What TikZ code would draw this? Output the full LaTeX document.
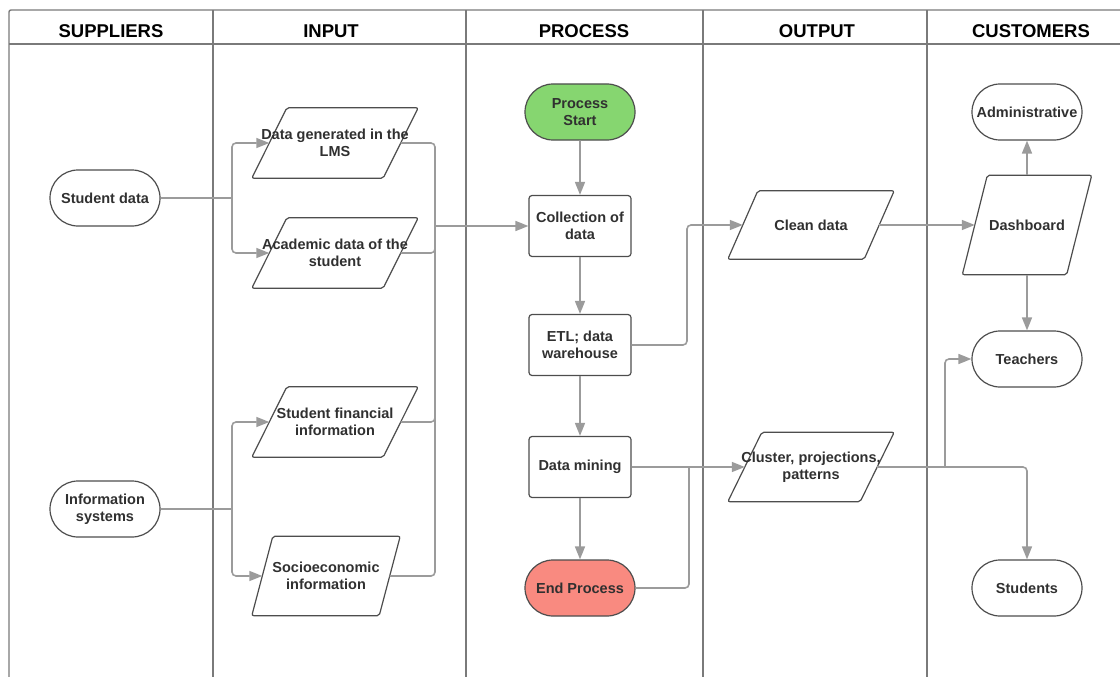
\documentclass[tikz,border=0pt]{standalone}
\usepackage{fontspec}
\setmainfont{Liberation Sans}
\usepackage{tikz}
\usetikzlibrary{positioning, arrows.meta, shapes.misc}
\definecolor{flowgray}{HTML}{9B9B9B}
\definecolor{edgegray}{HTML}{4D4D4D}
\definecolor{framegray}{HTML}{7A7A7A}
\definecolor{startgreen}{HTML}{86D670}
\definecolor{endred}{HTML}{F98A80}
\definecolor{textgray}{HTML}{303030}
\tikzset{
x=1pt, y=-1pt, % one unit is one pixel of the chart, y going down
every node/.style={font=\bfseries\fontsize{14.5}{17.5}\selectfont, text=textgray, align=center},
frame/.style={draw=framegray, line width=1.4pt},
lane/.style={font=\bfseries\fontsize{18.5}{20}\selectfont, text=black}, % column titles
term/.style={rounded rectangle, draw=edgegray, line width=1.2pt, minimum width=110pt, minimum height=56pt, inner sep=0pt},
procbox/.style={rectangle, rounded corners=3pt, draw=edgegray, line width=1.2pt, minimum width=102pt, minimum height=61pt, inner sep=0pt},
outline/.style={draw=edgegray, line width=1.2pt, rounded corners=2pt},
% parallelogram: the node is its mid-height box, #1 is how far the top leans right of the bottom
iobox/.style={rectangle, inner xsep=-30pt, inner ysep=0pt, minimum width=131pt, minimum height=70pt,
  append after command={\pgfextra{\draw[outline]
    ([xshift=-#1/2]\tikzlastnode.south west) -- ([xshift=-#1/2]\tikzlastnode.south east) --
    ([xshift=#1/2]\tikzlastnode.north east) -- ([xshift=#1/2]\tikzlastnode.north west) -- cycle;}}},
iobox/.default=35,
line/.style={draw=flowgray, line width=1.6pt, rounded corners=4pt},
flow/.style={line, -{Triangle[length=13pt, width=10pt]}}, % gray connector with a filled head
}
\begin{document}
\begin{tikzpicture}
\useasboundingbox (0,0) rectangle (1120,677);
\draw[frame, rounded corners=2pt] (1120,10) -- (9,10) -- (9,677);
\draw[frame] (9,44) -- (1120,44);
\foreach \x in {213,466,703,927}
  \draw[frame] (\x,10) -- (\x,677);
\node[lane] (hsup) at (111,31) {SUPPLIERS};
\node[lane] (hin) at (331,31) {INPUT};
\node[lane] (hproc) at (584,31) {PROCESS};
\node[lane] (hout) at (817,31) {OUTPUT};
\node[lane] (hcust) at (1031,31) {CUSTOMERS};

\node[term] (sd) at (105,198) {Student data};
\node[term] (is) at (105,509) {Information\\systems};

\node[iobox] (lms) at (335,143) {Data generated in the\\LMS};
\node[iobox, below of=lms, node distance=110pt] (acad) {Academic data of the\\student};
\node[iobox] (fin) at (335,422) {Student financial\\information};
\node[iobox=21, minimum width=127pt, minimum height=79pt] (soc) at (326,576) {Socioeconomic\\information};

\node[term, fill=startgreen] (start) at (580,112) {Process\\Start};
\node[procbox, below of=start, node distance=114pt] (coll) {Collection of\\data};
\node[procbox, below of=coll, node distance=119pt] (etl) {ETL; data\\warehouse};
\node[procbox, below of=etl, node distance=122pt] (dm) {Data mining};
\node[term, fill=endred, below of=dm, node distance=121pt] (end) {End Process};

\node[iobox=30, minimum width=136pt, minimum height=68pt] (clean) at (811,225) {Clean data};
\node[iobox=34, minimum width=132pt, minimum height=69pt] (clus) at (811,467) {Cluster, projections,\\patterns};

\node[term] (admin) at (1027,112) {Administrative};
\node[iobox=25, minimum width=104pt, minimum height=99pt, below of=admin, node distance=113pt] (dash) {Dashboard};
\node[term, below of=dash, node distance=134pt] (teach) {Teachers};
\node[term, below of=teach, node distance=229pt] (stud) {Students};

\coordinate (sdj) at (232,198);
\coordinate (isj) at (232,509);
\coordinate (inj) at (435,226);
\coordinate (etlj) at (687,345);
\coordinate (endj) at (689,467);
\coordinate (clj) at (945,467);

\draw[line] (sd.east) -- (sdj);
\draw[flow] (sdj) |- (lms.west);
\draw[flow] (sdj) |- (acad.west);
\draw[line] (is.east) -- (isj);
\draw[flow] (isj) |- (fin.west);
\draw[flow] (isj) |- (soc.west);
\draw[line] (lms.east) -| (inj);
\draw[line] (acad.east) -| (inj);
\draw[line] (fin.east) -| (inj);
\draw[line] (soc.east) -| (inj);
\draw[flow] (inj) -- (coll.west);
\draw[flow] (start) -- (coll);
\draw[flow] (coll) -- (etl);
\draw[flow] (etl) -- (dm);
\draw[flow] (dm) -- (end);
\draw[flow] (etl.east) -- (etlj) |- (clean.west);
\draw[flow] (dm.east) -- (clus.west);
\draw[line] (end.east) -| (endj);
\draw[flow] (clean.east) -- (dash.west);
\draw[flow] (dash.north) -- (admin.south);
\draw[flow] (dash.south) -- (teach.north);
\draw[line] (clus.east) -- (clj);
\draw[flow] (clj) |- (teach.west);
\draw[flow] (clj) -| (stud.north);
\end{tikzpicture}
\end{document}
